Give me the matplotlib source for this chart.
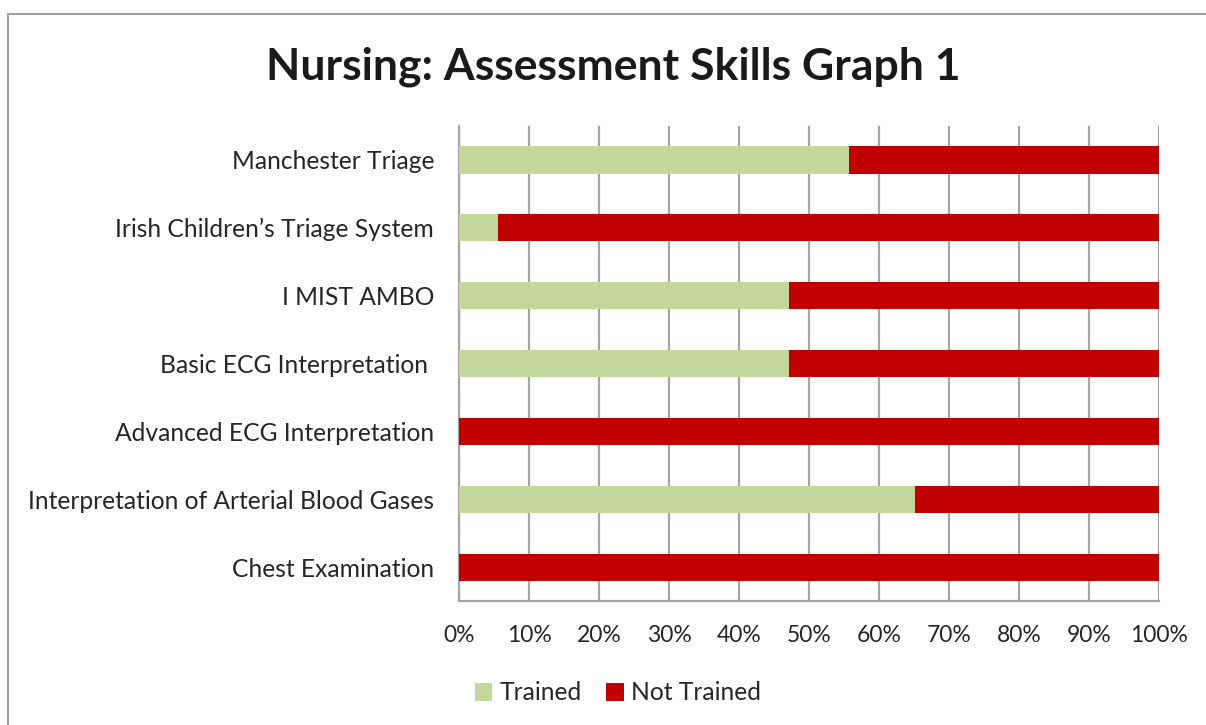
import matplotlib
matplotlib.use("Agg")
from matplotlib import pyplot as plt
from matplotlib.patches import Rectangle

skills = ["Manchester Triage", "Irish Children\u2019s Triage System", "I MIST AMBO",
          "Basic ECG Interpretation ", "Advanced ECG Interpretation",
          "Interpretation of Arterial Blood Gases", "Chest Examination"]
trained = [55.7, 5.6, 47.1, 47.1, 0.0, 65.1, 0.0]
not_trained = [44.3, 94.4, 52.9, 52.9, 100.0, 34.9, 100.0]

GREEN = "#C4D79B"
RED = "#C00000"
GRID = "#A6A6A6"

plt.rcParams["font.family"] = ["Lato", "DejaVu Sans"]

fig = plt.figure(figsize=(12.06, 7.25), dpi=100)
ax = fig.add_axes([459 / 1206, 1 - 601 / 725, 700 / 1206, 475 / 725])

# outer chart frame
fig.patches.append(Rectangle((8 / 1206, -0.05), 1.1, 1 - 14 / 725 + 0.05,
                             transform=fig.transFigure, fill=False,
                             edgecolor="#A0A0A0", linewidth=1.5))

y = list(range(len(skills)))
ax.barh(y, trained, height=0.4, color=GREEN, label="Trained", zorder=3)
ax.barh(y, not_trained, left=trained, height=0.4, color=RED, label="Not Trained", zorder=3)

ax.set_xlim(0, 100)
ax.set_ylim(len(skills) - 0.5, -0.5)
ax.set_yticks(y)
ax.set_yticklabels(skills, fontsize=17.7, color="#262626")
ax.set_xticks(range(0, 101, 10))
ax.set_xticklabels(["{}%".format(v) for v in range(0, 101, 10)], fontsize=16.5, color="#262626")
ax.tick_params(axis="y", length=0, pad=18)
ax.tick_params(axis="x", length=0, pad=17.5)

ax.grid(axis="x", color=GRID, linewidth=1.6, zorder=0)
for s in ["top", "right"]:
    ax.spines[s].set_visible(False)
for s in ["left", "bottom"]:
    ax.spines[s].set_color(GRID)
    ax.spines[s].set_linewidth(1.6)

fig.text(613 / 1206, 1 - 67 / 725, "Nursing: Assessment Skills Graph 1",
         ha="center", va="center", fontsize=32, fontweight="bold", color="#1a1a1a")

fig.legend(loc="center", bbox_to_anchor=(618 / 1206, 1 - 693 / 725), ncol=2,
           frameon=False, fontsize=17.7, handlelength=0.7, handleheight=0.7,
           handletextpad=0.3, columnspacing=1.0, labelcolor="#262626")

fig.savefig("out.png", dpi=100)
